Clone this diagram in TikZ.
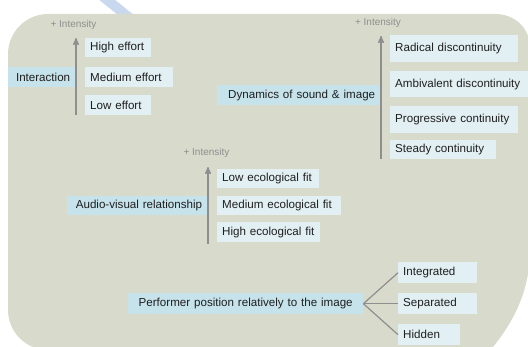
\documentclass[tikz,border=0pt]{standalone}
\usepackage{fontspec}
\setmainfont{Liberation Sans}
\usepackage{tikz}
\usetikzlibrary{arrows,positioning}
\definecolor{bgfill}{HTML}{D8DBCC}
\definecolor{catfill}{HTML}{C6E2EA}
\definecolor{itemfill}{HTML}{E2EFF3}
\definecolor{axisgray}{HTML}{8E8E8E}
\definecolor{stripeblue}{HTML}{C9D8EC}
\tikzset{
    cat/.style={
           rectangle,
           fill=catfill,
           anchor=north west,
           inner xsep=5pt,
           inner ysep=0pt,
           align=right,
           text=black!88,
           font=\fontsize{11.6}{14}\selectfont,
           },
    item/.style={
           rectangle,
           fill=itemfill,
           anchor=north west,
           inner xsep=5pt,
           inner ysep=0pt,
           align=left,
           text=black!88,
           font=\fontsize{11.6}{14}\selectfont,
           },
    intens/.style={
           inner sep=0pt,
           text=axisgray,
           font=\fontsize{10}{12}\selectfont,
           },
    axis/.style={
           ->,
           draw=axisgray,
           line width=1.4pt,
           },
    branch/.style={
           draw=axisgray,
           line width=1.2pt,
           }
}

\begin{document}
\begin{tikzpicture}[x=1pt,y=-1pt,>=stealth']
\useasboundingbox (0,0) rectangle (528,347);
\clip (0,0) rectangle (528,347);
% stripe and background
\draw[stripeblue, line width=10pt] (95,-10) -- (132,20);
\fill[bgfill] (8,310) -- (8,54) .. controls (8,32) and (26,14) .. (48,14)
  -- (495,14) .. controls (515,14) and (530,28) .. (530,48)
  -- (530,250) .. controls (530,300) and (505,335) .. (480,362)
  -- (48,350) .. controls (26,350) and (8,332) .. (8,310) -- cycle;
% interaction
\node[intens] (int1) at (73.5,25) {+ Intensity};
\node[cat, text width=57pt, minimum height=20pt] (inter) at (8,67) {Interaction};
\node[item, text width=56pt, minimum height=19pt] (high) at (85,38) {High effort};
\node[item, text width=78pt, minimum height=20pt] (medium) at (85,67) {Medium effort};
\node[item, text width=56pt, minimum height=20pt] (low) at (85,95) {Low effort};
\coordinate (ax1b) at (76,115);
\coordinate (ax1t) at (76,38);
\path (ax1b) edge[axis] (ax1t);
% dynamics
\node[intens] (int2) at (378,23) {+ Intensity};
\node[cat, text width=153pt, minimum height=20pt] (dyn) at (217,85) {Dynamics of sound \& image};
\node[item, text width=118pt, minimum height=27pt] (radical) at (390,35) {Radical discontinuity};
\node[item, text width=135pt, minimum height=26pt] (ambi) at (390,71) {Ambivalent discontinuity};
\node[item, text width=118pt, minimum height=27pt] (progr) at (390,106) {Progressive continuity};
\node[item, text width=96pt, minimum height=19pt] (steady) at (390,140) {Steady continuity};
\coordinate (ax2b) at (381,159);
\coordinate (ax2t) at (381,36);
\path (ax2b) edge[axis] (ax2t);
% audio-visual
\node[intens] (int3) at (206.5,153) {+ Intensity};
\node[cat, text width=130pt, minimum height=19pt] (audio) at (67,196) {Audio-visual relationship};
\node[item, text width=92pt, minimum height=19pt] (loweco) at (217,169) {Low ecological fit};
\node[item, text width=114pt, minimum height=19pt] (medeco) at (217,196) {Medium ecological fit};
\node[item, text width=93pt, minimum height=20pt] (higheco) at (217,222) {High ecological fit};
\coordinate (ax3b) at (208,244);
\coordinate (ax3t) at (208,167);
\path (ax3b) edge[axis] (ax3t);
% performer
\node[cat, align=center, text width=225pt, minimum height=21pt] (perf) at (128,293) {Performer position relatively to the image};
\node[item, text width=69pt, minimum height=21pt] (integ) at (398,262) {Integrated};
\node[item, text width=69pt, minimum height=21pt] (separ) at (398,293) {Separated};
\node[item, text width=52pt, minimum height=21pt] (hidden) at (398,324) {Hidden};
\path (perf.east) edge[branch] (integ.west);
\path (perf.east) edge[branch] (separ.west);
\path (perf.east) edge[branch] (hidden.west);
\end{tikzpicture}
\end{document}
